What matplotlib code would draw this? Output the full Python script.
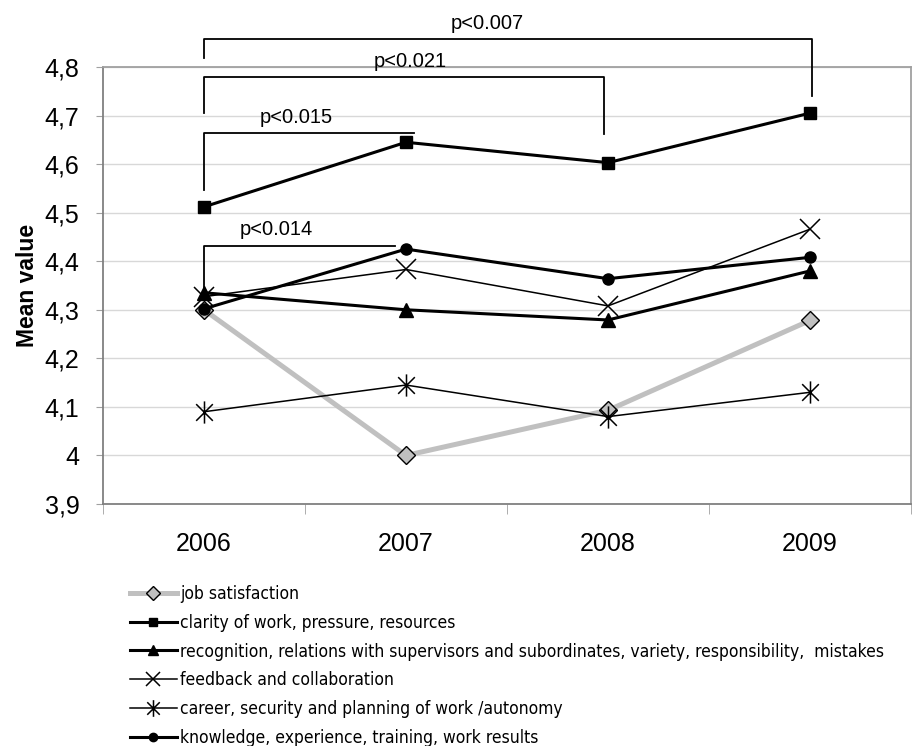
import matplotlib
matplotlib.use("Agg")
import matplotlib.pyplot as plt
from matplotlib.path import Path
from matplotlib import font_manager

years = ["2006", "2007", "2008", "2009"]
job_satisfaction = [4.30, 4.00, 4.093, 4.278]
clarity = [4.512, 4.645, 4.603, 4.705]
recognition = [4.335, 4.300, 4.279, 4.380]
feedback = [4.327, 4.383, 4.308, 4.466]
career = [4.090, 4.145, 4.080, 4.130]
knowledge = [4.302, 4.425, 4.364, 4.408]
labels = ["job satisfaction",
          "clarity of work, pressure, resources",
          "recognition, relations with supervisors and subordinates, variety, responsibility,  mistakes",
          "feedback and collaboration",
          "career, security and planning of work /autonomy",
          "knowledge, experience, training, work results"]
yticks = [3.9, 4.0, 4.1, 4.2, 4.3, 4.4, 4.5, 4.6, 4.7, 4.8]
ytick_labels = ["3,9", "4", "4,1", "4,2", "4,3", "4,4", "4,5", "4,6", "4,7", "4,8"]
# significance brackets: (start index, end index, label)
brackets = [(0, 3, "p<0.007"), (0, 2, "p<0.021"), (0, 1, "p<0.015"), (0, 1, "p<0.014")]

plt.rcParams['font.family'] = ['Liberation Sans', 'DejaVu Sans']
cond = [f for f in font_manager.fontManager.ttflist
        if f.name in ('Liberation Sans Narrow', 'DejaVu Sans', 'Roboto Condensed', 'Open Sans Condensed')
        and (f.stretch in ('condensed', 'semi-condensed', 'extra-condensed', 'narrow') or 'Narrow' in f.name or 'Condensed' in f.name)
        and f.weight in (400, 'normal', 'regular') and f.style == 'normal']
if cond:
    legend_prop = font_manager.FontProperties(fname=cond[0].fname, size=12.5)
else:
    legend_prop = font_manager.FontProperties(family='Liberation Sans', size=10.5)

fig = plt.figure(figsize=(9.15, 7.46), dpi=100)
ax = fig.add_axes([103/915, 1-504/746, 808/915, 437/746])

x = list(range(len(years)))
ast = Path([(0, -1), (0, 1), (-0.75, -0.75), (0.75, 0.75), (-0.75, 0.75), (0.75, -0.75)],
           [Path.MOVETO, Path.LINETO, Path.MOVETO, Path.LINETO, Path.MOVETO, Path.LINETO])

ax.plot(x, job_satisfaction, color='#c0c0c0', lw=3.6, marker='D', ms=9, mfc='#c0c0c0',
        mec='black', mew=1.0, label=labels[0], zorder=3)
ax.plot(x, clarity, color='black', lw=2.2, marker='s', ms=8, label=labels[1], zorder=4)
ax.plot(x, recognition, color='black', lw=2.2, marker='^', ms=10, label=labels[2], zorder=4)
ax.plot(x, feedback, color='black', lw=1.1, marker='x', ms=14, mew=1.1, label=labels[3], zorder=4)
ax.plot(x, career, color='black', lw=1.1, marker=ast, ms=16, mew=1.1, label=labels[4], zorder=4)
ax.plot(x, knowledge, color='black', lw=2.2, marker='o', ms=8, label=labels[5], zorder=4)

ax.set_xlim(-0.5, 3.5)
ax.set_ylim(3.9, 4.8)
ax.set_yticks(yticks)
ax.set_yticklabels(ytick_labels, fontsize=18)
ax.set_xticks(x)
ax.set_xticklabels(years, fontsize=18)
ax.set_xticks([-0.5, 0.5, 1.5, 2.5, 3.5], minor=True)
ax.tick_params(axis='x', which='major', length=0, pad=20)
ax.tick_params(axis='x', which='minor', length=7, color='#a0a0a0', direction='out')
ax.tick_params(axis='y', length=5, color='#a0a0a0', direction='out', pad=12)
ax.yaxis.grid(True, color='#d8d8d8', lw=1.0)
ax.set_axisbelow(True)
for s in ['left', 'bottom']:
    ax.spines[s].set_color('#808080')
    ax.spines[s].set_linewidth(1.3)
for s in ['top', 'right']:
    ax.spines[s].set_color('#a0a0a0')
    ax.spines[s].set_linewidth(1.3)
ax.set_ylabel("Mean value", fontsize=16.5, fontweight='bold', labelpad=4)

# brackets
def bracket(x0, x1, ytop, yl, yr, text, tx, ty):
    xs, ys = [x0, x0, x1], [yl, ytop, ytop]
    if yr is not None:
        xs.append(x1); ys.append(yr)
    ax.plot(xs, ys, color='black', lw=1.3, clip_on=False, zorder=5)
    ax.text(tx, ty, text, fontsize=14.5, ha='center', va='center', clip_on=False)

b = brackets
bracket(b[0][0], b[0][1] + 0.01, 4.857, 4.818, 4.74, b[0][2], 1.40, 4.89)
bracket(b[1][0], b[1][1] - 0.02, 4.779, 4.705, 4.663, b[1][2], 1.02, 4.812)
bracket(b[2][0], b[2][1] + 0.04, 4.664, 4.546, None, b[2][2], 0.455, 4.697)
bracket(b[3][0], b[3][1] - 0.055, 4.431, 4.34, None, b[3][2], 0.36, 4.465)

leg = fig.legend(loc='upper left', bbox_to_anchor=(130/915, 1-585/746), frameon=False,
                 prop=legend_prop, handlelength=2.7, handletextpad=0.2,
                 labelspacing=0.62, borderaxespad=0, borderpad=0)
for h in leg.legend_handles:
    h.set_markersize(h.get_markersize() * 0.75)

fig.savefig("out.png", dpi=100)
